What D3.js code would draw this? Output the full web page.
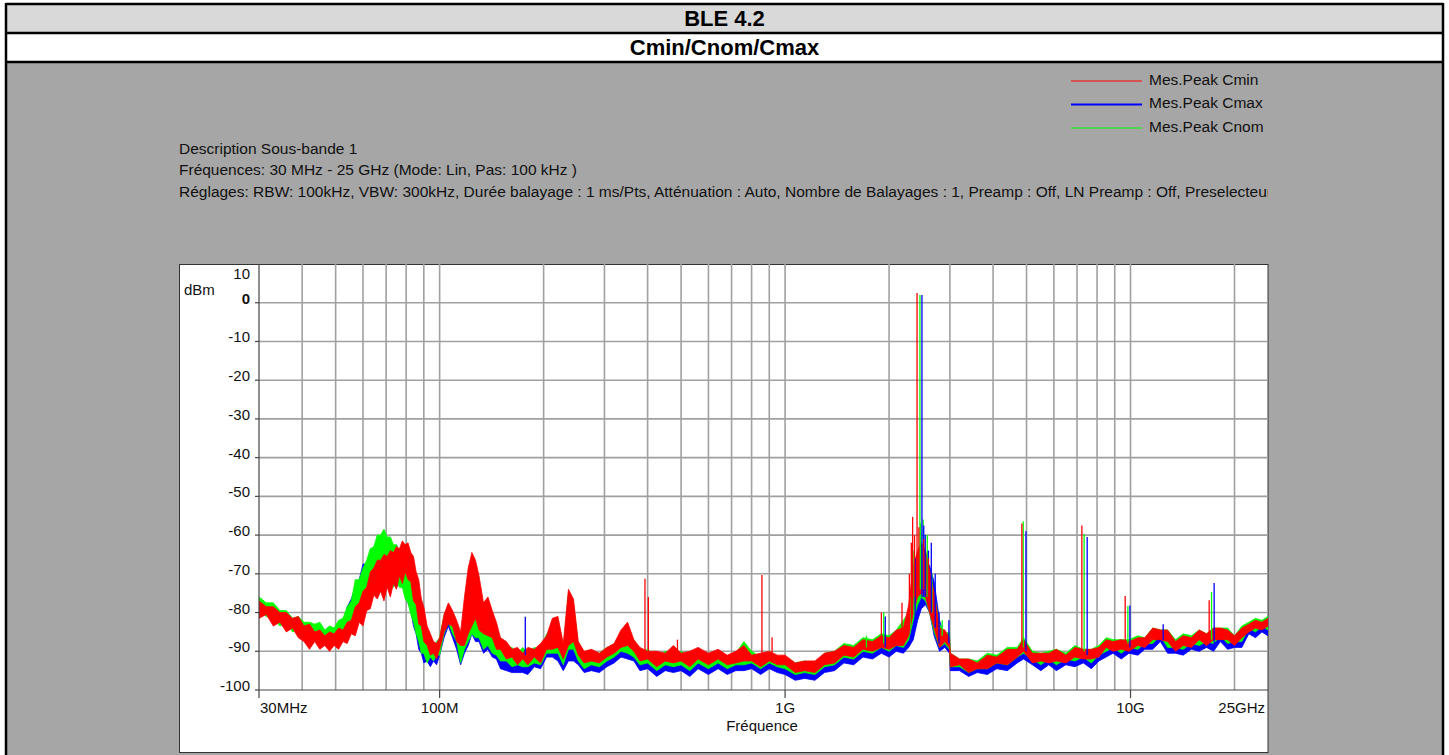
<!DOCTYPE html>
<html>
<head>
<meta charset="utf-8">
<title>BLE 4.2 - Cmin/Cnom/Cmax</title>
<script src="https://d3js.org/d3.v7.min.js"></script>
<style>
  body { margin: 0; background: #fff; }
  svg text { font-family: Arial, "Liberation Sans", sans-serif; }
</style>
</head>
<body>
<svg id="canvas" width="1449" height="755"></svg>
<script>
// ---- data ----
var titleText = "BLE 4.2";
var subTitleText = "Cmin/Cnom/Cmax";
var descLines = [
  "Description Sous-bande 1",
  "Fréquences: 30 MHz - 25 GHz (Mode: Lin, Pas: 100 kHz )",
  "Réglages: RBW: 100kHz, VBW: 300kHz, Durée balayage : 1 ms/Pts, Atténuation : Auto, Nombre de Balayages : 1, Preamp : Off, LN Preamp : Off, Preselecteur : Off"
];
var seriesNames = ["Mes.Peak Cmin", "Mes.Peak Cmax", "Mes.Peak Cnom"];
var seriesColors = ["#ff0000", "#0000ff", "#00ff00"];

var yTicks = [10, 0, -10, -20, -30, -40, -50, -60, -70, -80, -90, -100];
var xTickFreqs = [30, 100, 1000, 10000, 25000];
var xTickLabels = ["30MHz", "100M", "1G", "10G", "25GHz"];

// frequency grid in MHz
var freqMHz = [30,31.5,33,34.5,36,37.5,39,40.5,42,43.5,45,46.5,48,49.5,51,52.5,54,55.5,57,58.5,60,61.5,63,64.5,66,67.5,69,70.5,72,73.5,75,76.5,78,79.5,81,82.5,84,85.5,87,88.5,90,92,94,96,98,100,
  103,106,109,112,115,118,121,124,127,130,134,138,142,146,150,156,162,168,174,180,188,196,204,212,220,228,236,244,252,262,275,290,305,320,335,350,365,380,400,
  425,450,475,500,530,560,600,640,680,720,760,800,850,900,950,1000,1070,1140,1220,1300,1390,1480,1580,1680,1790,1900,2000,2100,2200,2280,2350,2420,2480,2550,2620,2700,
  2800,2900,2990,3010,3200,3400,3600,3850,4100,4400,4700,4900,5200,5500,5800,6100,6500,6900,7300,7700,8100,8500,8900,9400,9900,
  10500,11000,11600,12200,12800,13500,14200,15000,15800,16600,17400,18200,19100,20000,21000,22000,23000,24000,25000];

// Cmin (red) envelope, dBm
var cminLo = [-81.5,-80.5,-83.5,-82.5,-85,-84,-86.5,-87.5,-89.5,-87.5,-89.5,-88.5,-90,-88.5,-89.5,-87.5,-88,-85.5,-86,-82.5,
  -83.5,-79.5,-79,-75.5,-76.5,-74.5,-77,-73.5,-76,-72.5,-74,-70.5,-72.5,-69.5,-71.5,-72,-77,-78,-83,-83.5,-87.5,-88.5,-91,-90.5,-92,-89.5,
  -85,-83,-83.5,-87.5,-88.5,-88.5,-85.5,-83.5,-81.5,-84.5,
  -85.5,-86,-86.5,-89.5,-89.5,-92,-91.5,-93.5,-92,-93.5,
  -91.5,-93,-89.5,-89.5,-89,-92,-88.5,-87.5,-91,-93,
  -92.5,-93,-91.5,-90.5,-89,-88.5,-90,-92.5,-92,-94,
  -92.5,-93,-92.5,-94,-92,-93.5,-92,-93.5,-93,-92.5,
  -92.5,-94,-92.5,-93.5,-93.5,-95.5,-95,-95.5,-93.5,-93,
  -91,-91.5,-89.5,-90,-89,-89.5,-88.5,-88.5,-86,-80,
  -76,-75,-76,-80,-84,-89,-87.5,-89,-94,-93.5,
  -95.5,-94.5,-94.5,-93,-93.5,-91.5,-90,-93,-92.5,-93,
  -92.5,-93,-91.5,-92,-92,-91.5,-89,-90,-89.5,-90,
  -88.5,-89,-87,-87,-87.5,-90,-88.5,-89,-87,-88.5,
  -87,-87,-87,-88.5,-86.5,-85,-84,-84.5,-83.5];
var cminHi = [-77,-78.5,-78.5,-80,-80,-81.5,-81,-83.5,-83,-85,-84.5,-86,-85,-85.5,-84,-84.5,-82.5,-82,-78.5,-77.5,
  -74.5,-73.5,-69.5,-68.5,-66.5,-66.5,-65,-65.5,-64,-64.5,-63,-63.5,-61.5,-62.5,-62,-64.5,-65.5,-69.5,-71.5,-76.5,-78.5,-83.5,-85.5,-87.5,-88,-86.5,
  -80.5,-77.5,-79.5,-82,-85,-76,-68.5,-64.5,-66.5,-70.5,
  -77.5,-76,-79.5,-82.5,-86.5,-87.5,-89.5,-89,-90.5,-89,
  -89.5,-88,-86,-81.5,-81,-88,-74,-76.5,-87.5,-90,
  -89.5,-90.5,-89,-88,-84.5,-82.5,-87,-89,-90,-90,
  -90.5,-88.5,-90.5,-90,-89,-90.5,-89.5,-91,-90,-88.5,
  -91,-90.5,-90,-91,-91,-93,-92.5,-92.5,-90.5,-90,
  -88.5,-89,-87,-87.5,-86,-86.5,-84.5,-84,-78,-68,
  -64,-62,-64,-69,-75,-84,-84.5,-86.5,-90.5,-92,
  -92,-93,-91,-91.5,-89.5,-89.5,-87,-90.5,-90.5,-90.5,
  -89.5,-91,-89,-89.5,-89.5,-89,-87,-87.5,-87,-87.5,
  -86.5,-86.5,-84,-84.5,-84.5,-87.5,-86,-86.5,-84.5,-85.5,
  -84,-84,-84.5,-86,-84,-83,-82,-82.5,-81.5];

// Cmax (blue) envelope, dBm
var cmaxLo = [-80.5,-79.5,-82.5,-81.5,-84,-83,-85.5,-86,-88,-86.5,-88.5,-87.5,-89,-87.5,-88,-86.5,-85.5,-83.5,-82.5,-79.5,
  -78.5,-75.5,-74.5,-71.5,-71.5,-69.5,-71.5,-71.5,-72.5,-72.5,-73.5,-72,-73.5,-74.5,-77.5,-79.5,-83.5,-85.5,-89.5,-90.5,-93,-92.5,-94,-92.5,-93.5,-91,
  -86.5,-83.5,-86.5,-89.5,-93.5,-90.5,-88.5,-85.5,-87.5,-87.5,
  -90.5,-89.5,-91.5,-92,-94.5,-95,-95.5,-95.5,-95.5,-96,
  -94,-94.5,-91.5,-91.5,-92.5,-95,-92.5,-92.5,-93.5,-95.5,
  -95,-95.5,-94,-93,-91.5,-92,-92.5,-95,-94.5,-96.5,
  -95,-95.5,-95,-96.5,-94.5,-96,-94.5,-96,-95,-95,
  -94.5,-96,-94.5,-95.5,-96,-97.5,-97,-97.5,-95.5,-95,
  -93,-93.5,-91.5,-92,-90.5,-91.5,-90,-90.5,-89,-87,
  -82,-79,-78,-80,-86,-90,-89,-90.5,-95,-95,
  -96.5,-95.5,-96,-94.5,-95,-93,-92,-93.5,-95,-93.5,
  -95,-93.5,-94,-93,-94.5,-92.5,-91.5,-90.5,-92,-90.5,
  -91,-89.5,-89.5,-87.5,-90.5,-90.5,-91,-89.5,-90,-89,
  -90,-87.5,-89.5,-89,-89,-85.5,-86.5,-85,-86];
var cmaxHi = [-77.5,-79,-79,-80.5,-80.5,-82.5,-82,-84.5,-84,-85.5,-85,-86.5,-85.5,-86,-83.5,-83.5,-78.5,-76.5,-73.5,-71.5,
  -67.5,-67.5,-64.5,-63.5,-61.5,-61.5,-61,-62.5,-62.5,-64,-62.5,-64.5,-64.5,-66.5,-66.5,-70.5,-73.5,-77.5,-79.5,-83.5,-85.5,-88.5,-88.5,-89,-88.5,-87.5,
  -81.5,-80.5,-81,-84.5,-86.5,-86.5,-79.5,-76.5,-76.5,-79.5,
  -80.5,-80.5,-82.5,-85.5,-87.5,-90.5,-90,-91.5,-90.5,-91.5,
  -90,-90.5,-86.5,-85.5,-84,-90.5,-75.5,-78.5,-89,-91.5,
  -91,-92,-90.5,-89,-87,-86.5,-87.5,-91,-90.5,-92.5,
  -91,-91.5,-91,-92.5,-90.5,-92.5,-91,-92.5,-91.5,-90.5,
  -91,-92.5,-91,-92,-92,-94,-93.5,-94,-92,-91.5,
  -89.5,-90,-88,-88.5,-87,-87.5,-86,-84.5,-83.5,-78,
  -72,-66,-66,-68,-72,-82,-86.5,-86,-92,-92.5,
  -94,-92.5,-93,-91.5,-92,-90,-89,-90.5,-92.5,-91,
  -92,-91,-91.5,-90,-92,-89.5,-89,-88,-89.5,-87.5,
  -88.5,-87,-86.5,-85,-87,-88,-88.5,-87,-87,-86,
  -86.5,-84.5,-87,-86.5,-86.5,-83.5,-84.5,-83,-84];

// Cnom (green) envelope, dBm
var cnomLo = [-79.5,-81,-81.5,-83.5,-82.5,-85,-84.5,-87,-86.5,-86.5,-86.5,-88,-87.5,-88,-86.5,-86.5,-84.5,-83.5,-80.5,-79.5,
  -76.5,-75.5,-72.5,-71.5,-69.5,-69.5,-69.5,-71.5,-71.5,-73.5,-71.5,-73.5,-73.5,-76.5,-77.5,-80.5,-82.5,-85.5,-87.5,-90.5,-90.5,-93,-91.5,-92.5,-91,-91,
  -85.5,-82.5,-85.5,-87.5,-93,-89.5,-87.5,-85.5,-86.5,-86.5,
  -89.5,-88.5,-90.5,-91,-92.5,-92.5,-94,-93.5,-94,-94,
  -93,-93.5,-90.5,-90.5,-90.5,-93.5,-89.5,-89.5,-92.5,-94.5,
  -93.5,-94,-92.5,-91.5,-90,-90.5,-91.5,-93.5,-93,-95,
  -93.5,-94,-93.5,-95,-93,-94.5,-93,-94.5,-93.5,-93.5,
  -93,-94.5,-93,-94,-94.5,-96,-95.5,-96,-94,-93.5,
  -91.5,-92,-90,-90.5,-89,-90,-88.5,-89,-87,-82,
  -78,-76,-77,-80,-85,-89,-88,-89.5,-94,-94,
  -95.5,-94.5,-94.5,-93,-93.5,-91.5,-90.5,-92,-93.5,-92,
  -93.5,-92,-92.5,-91.5,-93,-91,-90,-89,-90.5,-89,
  -89.5,-88,-88,-86,-89,-89,-89.5,-88,-88.5,-87.5,
  -88,-86,-88,-87.5,-87.5,-84,-85,-83.5,-84.5];
var cnomHi = [-76,-77.5,-77.5,-79.5,-79.5,-81.5,-81,-82.5,-82.5,-83,-82.5,-84.5,-83.5,-84,-82,-81.5,-78.5,-77,-71.5,-71.5,
  -68.5,-66.5,-63.5,-63,-60,-60,-58.5,-60.5,-60.5,-62.5,-62.5,-64.5,-64.5,-66.5,-67.5,-71.5,-74.5,-77.5,-79.5,-83.5,-85.5,-88,-87.5,-88.5,-87.5,-86.5,
  -80.5,-79.5,-80,-83.5,-85.5,-85.5,-78.5,-77.5,-77.5,-80.5,
  -80.5,-80.5,-81.5,-85.5,-86.5,-89.5,-89,-90.5,-89,-90.5,
  -89,-89.5,-85.5,-84.5,-82.5,-89.5,-75,-77.5,-88.5,-90.5,
  -90,-90.5,-89,-88.5,-86,-85.5,-87,-90.5,-89.5,-91.5,
  -90,-90.5,-90,-91.5,-89.5,-91.5,-90,-91.5,-90.5,-87.5,
  -90,-91.5,-90,-91.5,-91.5,-93,-92.5,-93,-90.5,-90,
  -88,-88.5,-86.5,-87,-85.5,-86,-84.5,-82,-80,-72,
  -66,-63,-64,-70,-75,-83,-85.5,-85,-90.5,-92,
  -92,-92.5,-90.5,-91,-89,-89,-86.5,-90,-90.5,-90,
  -89.5,-90.5,-88.5,-89.5,-89.5,-88.5,-86.5,-87,-87,-87,
  -86,-86.5,-84,-84.5,-84.5,-87,-85.5,-86,-84.5,-85.5,
  -84,-84,-84,-86,-83.5,-82.5,-81.5,-82,-81];

// narrow emission spikes: [MHz, base dBm, peak dBm]
var cminSpikes = [[393,-90,-71.3],[402,-90,-76],[488,-91,-87],[857,-91,-70.3],[917,-91,-86.4],[1900,-88,-80],[2180,-86,-77.5],
  [2290,-84,-70],[2320,-80,-62],[2340,-78,-55.3],[2370,-76,-60],[2410,-74,2.5],[2440,-74,-58],[2520,-74,-61],[2600,-78,-66],
  [4847,-89,-57],[7230,-90,-57.5],[9650,-88,-75.7],[16890,-86,-76.8]];
var cmaxSpikes = [[177,-91,-81.1],[1950,-89,-81],[2380,-84,-66],[2490,-76,2],[2520,-76,-57.5],[2545,-76,-60],[2600,-78,-64],
  [2650,-80,-62],[2720,-84,-70],[2790,-88,-80],[2980,-88,-82],[4980,-90,-59],[7490,-91,-60.5],[9960,-89,-78.2],[12430,-87,-83],[17460,-88,-72.4]];
var cnomSpikes = [[1720,-89,-86],[1930,-88,-80],[2300,-84,-76],[2360,-80,-64],[2457,-74,2],[2470,-74,-57],[2510,-74,-56],
  [2580,-76,-60],[2660,-80,-70],[2850,-86,-82],[4890,-89,-56.4],[7340,-90,-59.7],[9825,-88,-78.3],[17160,-87,-74.7]];

// ---- drawing ----
var svg = d3.select("#canvas");

var frameL = 6, frameR = 1443;
var plotL = 259, plotR = 1268, plotT = 264, plotB = 690;

// header rows and gray body
svg.append("rect").attr("x", frameL).attr("y", 4).attr("width", frameR - frameL).attr("height", 29).attr("fill", "#d9d9d9");
svg.append("rect").attr("x", frameL).attr("y", 33).attr("width", frameR - frameL).attr("height", 29).attr("fill", "#ffffff");
svg.append("rect").attr("x", frameL).attr("y", 62).attr("width", frameR - frameL).attr("height", 700).attr("fill", "#a6a6a6");

var borders = svg.append("g").attr("stroke", "#000").attr("stroke-width", 2.5);
[4, 33, 62].forEach(function (yy) {
  borders.append("line").attr("x1", frameL).attr("x2", frameR).attr("y1", yy).attr("y2", yy);
});
[frameL, frameR].forEach(function (xx) {
  borders.append("line").attr("x1", xx).attr("x2", xx).attr("y1", 3).attr("y2", 760);
});

svg.append("text").attr("x", 724.5).attr("y", 26).attr("text-anchor", "middle")
  .attr("font-size", 22).attr("font-weight", "bold").text(titleText);
svg.append("text").attr("x", 724.5).attr("y", 54.5).attr("text-anchor", "middle")
  .attr("font-size", 22).attr("font-weight", "bold").text(subTitleText);

// legend
var legend = svg.append("g");
seriesNames.forEach(function (name, i) {
  var ly = 81 + i * 23.5;
  legend.append("line").attr("x1", 1071).attr("x2", 1142).attr("y1", ly).attr("y2", ly)
    .attr("stroke", seriesColors[i]).attr("stroke-width", i === 1 ? 2 : 1.2);
  legend.append("text").attr("x", 1149).attr("y", ly + 3.5).attr("font-size", 15.5).attr("fill", "#111").text(name);
});

// description text (clipped at panel edge)
svg.append("clipPath").attr("id", "descClip").append("rect")
  .attr("x", 0).attr("y", 130).attr("width", plotR).attr("height", 80);
var desc = svg.append("g").attr("clip-path", "url(#descClip)");
descLines.forEach(function (t, i) {
  desc.append("text").attr("x", 179).attr("y", 153.5 + i * 21.5).attr("font-size", 15.5).attr("fill", "#111").text(t);
});

// white chart panel
svg.append("rect").attr("x", 179.5).attr("y", plotT + 0.5).attr("width", plotR - 179.5).attr("height", 752 - plotT)
  .attr("fill", "#fff").attr("stroke", "#333").attr("stroke-width", 1);

var x = d3.scaleLog().domain([30, 25000]).range([plotL, plotR]);
var y = d3.scaleLinear().domain([-100, 10]).range([plotB, plotT]);

// grid
var grid = svg.append("g").attr("stroke", "#a0a0a0").attr("stroke-width", 1.6);
x.ticks().filter(function (f) { return f > 30 && f < 25000; }).forEach(function (f) {
  grid.append("line").attr("x1", x(f)).attr("x2", x(f)).attr("y1", plotT).attr("y2", plotB);
});
yTicks.filter(function (v) { return v < 10 && v > -100; }).forEach(function (v) {
  grid.append("line").attr("x1", plotL).attr("x2", plotR).attr("y1", y(v)).attr("y2", y(v));
});

// traces
svg.append("clipPath").attr("id", "plotClip").append("rect")
  .attr("x", plotL).attr("y", plotT).attr("width", plotR - plotL).attr("height", plotB - plotT);
var traces = svg.append("g").attr("clip-path", "url(#plotClip)");

function band(lo, hi) {
  return freqMHz.map(function (f, i) { return { f: f, lo: lo[i], hi: hi[i] }; });
}
var area = d3.area()
  .x(function (d) { return x(d.f); })
  .y0(function (d) { return y(d.lo); })
  .y1(function (d) { return y(d.hi); });

var bands = [
  { data: band(cmaxLo, cmaxHi), color: seriesColors[1] },
  { data: band(cnomLo, cnomHi), color: seriesColors[2] },
  { data: band(cminLo, cminHi), color: seriesColors[0] }
];
bands.forEach(function (b) {
  traces.append("path").datum(b.data).attr("d", area)
    .attr("fill", b.color).attr("stroke", b.color).attr("stroke-width", 0.8);
});

var spikeSets = [
  { data: cnomSpikes, color: seriesColors[2] },
  { data: cmaxSpikes, color: seriesColors[1] },
  { data: cminSpikes, color: seriesColors[0] }
];
spikeSets.forEach(function (s) {
  traces.append("g").selectAll("line").data(s.data).enter().append("line")
    .attr("x1", function (d) { return x(d[0]); }).attr("x2", function (d) { return x(d[0]); })
    .attr("y1", function (d) { return y(d[1]); }).attr("y2", function (d) { return y(d[2]); })
    .attr("stroke", s.color).attr("stroke-width", 1.3);
});

// axes
var axes = svg.append("g").attr("stroke", "#444").attr("stroke-width", 1.2);
axes.append("line").attr("x1", plotL).attr("x2", plotR).attr("y1", plotB).attr("y2", plotB);
axes.append("line").attr("x1", plotL).attr("x2", plotL).attr("y1", plotT).attr("y2", plotB + 8);
xTickFreqs.slice(1, 4).forEach(function (f) {
  axes.append("line").attr("x1", x(f)).attr("x2", x(f)).attr("y1", plotB).attr("y2", plotB + 8);
});
yTicks.slice(1).forEach(function (v) {
  axes.append("line").attr("x1", plotL - 4).attr("x2", plotL).attr("y1", y(v)).attr("y2", y(v));
});

// y tick labels
yTicks.forEach(function (v) {
  svg.append("text")
    .attr("x", 250)
    .attr("y", v === 10 ? y(v) + 15 : y(v) + 1)
    .attr("text-anchor", "end")
    .attr("font-size", 15)
    .attr("font-weight", v === 0 ? "bold" : "normal")
    .attr("fill", "#111")
    .text(v);
});
svg.append("text").attr("x", 184).attr("y", 295).attr("font-size", 15).attr("fill", "#111").text("dBm");

// x tick labels
xTickFreqs.forEach(function (f, i) {
  var last = i === xTickFreqs.length - 1;
  var anchor = i === 0 ? "start" : (last ? "end" : "middle");
  svg.append("text").attr("x", i === 0 ? x(f) + 1 : (last ? x(f) - 3 : x(f)))
    .attr("y", 713).attr("text-anchor", anchor).attr("font-size", 15).attr("fill", "#111")
    .text(xTickLabels[i]);
});
svg.append("text").attr("x", 762).attr("y", 731).attr("text-anchor", "middle")
  .attr("font-size", 15).attr("fill", "#111").text("Fréquence");
</script>
</body>
</html>
